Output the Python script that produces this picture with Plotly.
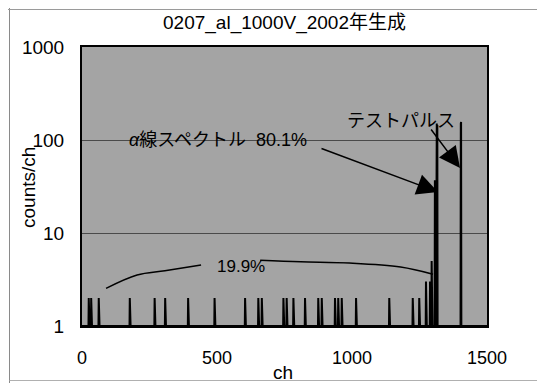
import numpy as np
import plotly.graph_objects as go

# ---------------- data ----------------
chart_title = "0207_al_1000V_2002年生成"
x_tick_vals = [0, 500, 1000, 1500]
y_tick_vals = [1, 10, 100, 1000]

# isolated noise counts (counts/ch) at individual channels
spike_ch = [25, 34, 62, 177, 269, 308, 393, 491, 604, 653, 666, 746, 758, 783,
            826, 875, 888, 937, 949, 962, 1015, 1138, 1225, 1249, 1274, 1289]
spike_counts = [2, 2, 2, 2, 2, 2, 2, 2, 2, 2, 2, 2, 2, 2,
                2, 2, 2, 2, 2, 2, 2, 2, 2, 2, 3, 3]

# alpha peak and test pulse
peak_ch = [1295, 1307, 1312, 1314, 1316, 1403, 1404]
peak_counts = [5, 37, 145, 150, 145, 150, 156]

# smoothed low-energy tail (19.9 %)
tail_ch = [89, 204, 307, 441, None, 660, 810, 990, 1180, 1300]
tail_counts = [2.54, 3.54, 3.93, 4.53, None, 5.1, 4.9, 4.75, 4.3, 3.6]

# full spectrum built from the lists above (baseline = 1 count)
channels = np.arange(0, 1501)
counts = np.ones(channels.size)
counts[spike_ch] = spike_counts
counts[peak_ch] = peak_counts

FONT = "Liberation Sans, Arial, Noto Sans CJK JP, sans-serif"

# page offset caused by the browser's default body margin
OFF = 8
# plot area in page pixels: x 82..487, y 47..326
PL, PR, PT, PB = 82, 487, 47, 326
PW, PH = PR - PL, PB - PT


def px(x):
    return (x - PL) / PW


def py(y):
    return (PB - y) / PH


fig = go.Figure()
fig.add_trace(go.Scatter(x=channels, y=counts, mode="lines",
                         line=dict(color="black", width=2), showlegend=False))
fig.add_trace(go.Scatter(x=tail_ch, y=tail_counts, mode="lines",
                         line=dict(color="black", width=1.5, shape="spline"),
                         connectgaps=False, showlegend=False))

W, H = 545 - OFF, 383 - OFF
fig.update_layout(
    width=W, height=H,
    margin=dict(l=PL - OFF, r=545 - PR, t=PT - OFF, b=383 - PB, autoexpand=False),
    paper_bgcolor="white",
    plot_bgcolor="#a4a4a4",
    font=dict(family=FONT, color="black", size=18),
    title=dict(text=chart_title, x=0.5, xref="paper", xanchor="center",
               y=1 - (22 - OFF) / H, yref="container", yanchor="middle",
               font=dict(size=19, family=FONT, color="black")),
    xaxis=dict(range=[0, 1500], tickvals=x_tick_vals, showgrid=False,
               zeroline=False, showline=True, mirror=True, linecolor="black",
               linewidth=2, ticks="", ticklabelstandoff=14, automargin=False,
               tickfont=dict(size=18)),
    yaxis=dict(type="log", range=[0, 3], tickvals=y_tick_vals,
               showgrid=True, gridcolor="#4a4a4a", gridwidth=1.2,
               zeroline=False, showline=True, mirror=True, linecolor="black",
               linewidth=2, ticks="", ticklabelstandoff=12, automargin=False,
               tickfont=dict(size=19)),
    showlegend=False,
)

common = dict(xref="paper", yref="paper", xanchor="center", yanchor="middle")
annotations = [
    dict(text="counts/ch", x=px(28), y=py(188), textangle=-90, showarrow=False,
         font=dict(size=19), **common),
    dict(text="ch", x=px(283), y=py(372), showarrow=False,
         font=dict(size=19), **common),
    dict(text="<i>α</i>線スペクトル&nbsp;&nbsp;80.1%", x=px(218), y=py(140),
         showarrow=False, font=dict(size=18), **common),
    dict(text="テストパルス", x=px(401), y=py(121), showarrow=False,
         font=dict(size=18), **common),
    dict(text="19.9%", x=px(241), y=py(266), showarrow=False,
         font=dict(size=17), **common),
    # arrows
    dict(text="", xref="paper", yref="paper",
         x=px(438), y=py(192), ax=-118, ay=-44,
         showarrow=True, arrowhead=2, arrowsize=2.8, arrowwidth=1.5,
         arrowcolor="black", standoff=0, startstandoff=0),
    dict(text="", xref="paper", yref="paper",
         x=px(460), y=py(168), ax=-30, ay=-40,
         showarrow=True, arrowhead=2, arrowsize=2.8, arrowwidth=1.5,
         arrowcolor="black", standoff=0, startstandoff=0),
]
fig.update_layout(annotations=annotations)

# scanned page edges
fig.update_layout(shapes=[
    dict(type="line", xref="paper", yref="paper",
         x0=px(9.5), x1=px(9.5), y0=py(OFF), y1=py(383),
         line=dict(color="#8a8a8a", width=1)),
    dict(type="line", xref="paper", yref="paper",
         x0=px(OFF), x1=px(545), y0=py(9.5), y1=py(9.5),
         line=dict(color="#9a9a9a", width=1)),
    dict(type="line", xref="paper", yref="paper",
         x0=px(9.5), x1=px(545), y0=py(380.5), y1=py(380.5),
         line=dict(color="#b0b0b0", width=1)),
])

fig.write_html("out.html")
